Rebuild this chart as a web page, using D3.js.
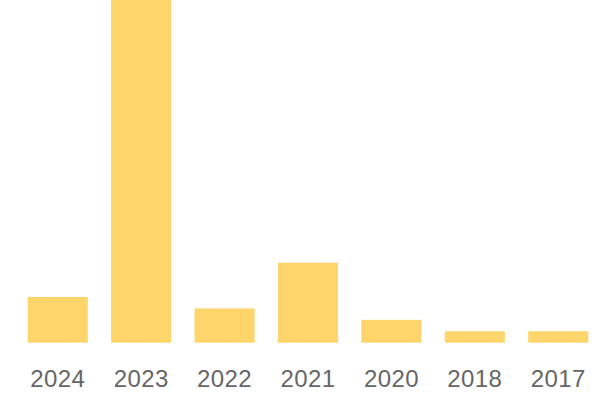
<!DOCTYPE html>
<html><head><meta charset="utf-8">
<script src="https://cdn.jsdelivr.net/npm/d3@7"></script>
<style>html,body{margin:0;padding:0;background:#fff;}svg{display:block;}</style>
</head><body>
<svg id="chart" width="600" height="400"></svg>
<script>
const categories = ["2024","2023","2022","2021","2020","2018","2017"];
const values = [4, 30, 3, 7, 2, 1, 1];

const svg = d3.select("#chart");
const x = d3.scaleBand().domain(categories).range([16, 600]).paddingInner(0.28).paddingOuter(0.14);
const y = d3.scaleLinear().domain([0, 30]).range([342.7, 0]);

svg.selectAll("rect.bar").data(categories).join("rect")
  .attr("class","bar")
  .attr("x", d => x(d))
  .attr("width", x.bandwidth())
  .attr("y", (d,i) => y(values[i]))
  .attr("height", (d,i) => y(0) - y(values[i]))
  .attr("fill", "#FED56A");

const axis = d3.axisBottom(x).tickSize(0).tickPadding(0);
const g = svg.append("g").attr("transform", "translate(0,370)").call(axis);
g.select(".domain").remove();
g.selectAll("text")
  .attr("dy", "0.71em")
  .attr("fill", "#666")
  .style("font-family", "'Liberation Sans', Arial, sans-serif")
  .style("font-size", "24px")
  .style("letter-spacing", "0.4px");
</script>
</body></html>
